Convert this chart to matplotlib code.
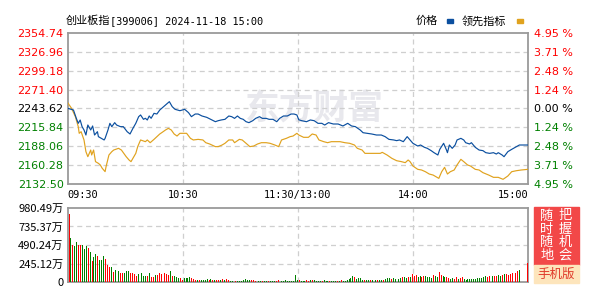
import numpy as np
import matplotlib
matplotlib.use("Agg")
import matplotlib.pyplot as plt
from matplotlib.patches import Rectangle

plt.rcParams['font.family'] = ['DejaVu Sans', 'Noto Sans CJK SC']
CJK = ['Noto Sans CJK SC', 'DejaVu Sans']
MONO = ['DejaVu Sans Mono', 'Noto Sans CJK SC']

# ------------------------
# Data (minutes after 09:30, 240 trading minutes)
# ------------------------
price_t = [0, 3, 4.5, 5.5, 6.5, 7.5, 8.5, 9.5, 10.5, 12,
           13, 14, 15.5, 16, 17.5, 19, 19.5, 21, 22, 23,
           24.5, 25.5, 27.5, 29, 31, 32.5, 34, 35.5, 37, 38,
           39.5, 40.5, 41.5, 42.5, 43.5, 45, 46.5, 48, 49, 51,
           53, 54.5, 56, 58.5, 61, 63, 64.5, 66.5, 68, 70,
           72.5, 74.5, 77, 78.5, 80, 82, 84, 85.5, 87, 88.5,
           90, 91.5, 93, 94.5, 96.5, 98, 100, 101.5, 103.5, 105,
           107, 109, 110.5, 112.5, 114.5, 116.5, 118, 119.5, 120.5, 122,
           124.5, 126.5, 128.5, 130.5, 132.5, 134, 136, 138.5, 141, 143.5,
           146, 148, 150, 152.5, 154, 156, 158.5, 161, 163.5, 165.5,
           167.5, 170, 171.5, 173, 175, 177, 178.5, 180, 182.5, 184,
           186, 187.5, 189.5, 191, 193, 194, 196, 197.5, 198, 199,
           200.5, 202, 203, 205, 206.5, 207.5, 209.5, 210.5, 212.5, 214.5,
           216.5, 218, 220, 222, 223.5, 224.5, 226.5, 227.5, 229.5, 231.5,
           234, 235.5, 237.5, 240]
price = [2243.9, 2241.4, 2229.1, 2221.8, 2226.7, 2216.9, 2212.0, 2204.6, 2219.3, 2212.0,
         2217.9, 2204.6, 2209.5, 2202.2, 2199.7, 2197.3, 2199.7, 2212.0, 2221.8, 2216.9,
         2222.8, 2219.3, 2216.9, 2216.9, 2209.5, 2206.1, 2214.4, 2221.8, 2231.6, 2234.1,
         2227.7, 2229.2, 2226.7, 2232.6, 2229.2, 2236.5, 2235.5, 2241.4, 2243.9, 2248.8,
         2253.7, 2246.3, 2242.4, 2240.4, 2242.4, 2237.5, 2231.6, 2235.5, 2235.5, 2232.6,
         2230.6, 2227.7, 2224.2, 2225.7, 2226.7, 2227.7, 2232.6, 2231.6, 2229.1, 2232.6,
         2229.1, 2227.7, 2224.2, 2222.8, 2225.7, 2229.1, 2231.6, 2229.1, 2229.1, 2227.7,
         2227.7, 2224.2, 2229.1, 2232.6, 2232.6, 2235.5, 2235.5, 2234.1, 2227.0, 2225.7,
         2224.2, 2226.7, 2225.7, 2221.8, 2221.8, 2219.3, 2222.8, 2220.8, 2220.8, 2217.9,
         2221.8, 2217.9, 2216.9, 2212.0, 2208.0, 2207.1, 2206.1, 2204.6, 2204.6, 2202.2,
         2198.2, 2197.3, 2196.3, 2197.3, 2194.8, 2202.2, 2197.3, 2192.4, 2188.4, 2189.9,
         2186.5, 2185.0, 2181.6, 2178.6, 2175.2, 2183.5, 2192.4, 2182.5, 2178.6, 2189.9,
         2185.0, 2189.9, 2197.3, 2199.7, 2197.3, 2193.3, 2191.4, 2193.3, 2186.5, 2182.5,
         2181.6, 2178.6, 2177.6, 2178.6, 2176.6, 2178.6, 2175.2, 2172.7, 2180.1, 2183.5,
         2187.5, 2189.9, 2189.9, 2189.9]

lead_t = [0, 2, 4, 5.5, 6, 7, 8.5, 9.5, 10.5, 12,
          12.5, 13.5, 14.5, 16, 17, 18, 19.5, 20, 21.5, 23,
          24, 25, 26.5, 28, 29, 30.5, 32, 33, 34, 35.5,
          36.5, 38, 39, 40.5, 41.5, 43, 45, 46.5, 48, 49,
          51, 52.5, 54, 55.5, 57, 58.5,
          62, 64, 65.5, 68, 70.5, 72, 74, 77, 78.5, 80.5,
          82, 84, 86, 87, 89.5, 91, 93, 95, 97, 99,
          101, 103.5, 105.5, 108, 110, 111.5, 114, 116, 117.5, 119.5,
          120.5, 123, 125.5, 127.5, 129.5, 131, 133.5, 135.5, 137.5, 139.5,
          142, 144.5, 147, 149.5, 151, 153.5, 155, 157, 160, 163,
          164, 166.5, 169, 171.5, 174, 176, 177.5,
          178.5, 180, 182.5, 184.5, 186.5, 188.5, 190.5, 193.5, 195, 196.5,
          198, 199.5, 201.5, 203, 205, 206.5, 208.5, 210, 212.5, 214.5,
          216.5, 219.5, 222, 224.5, 227, 229.5, 231.5, 234, 236.5, 240]
lead = [2252.2, 2243.9, 2231.6, 2216.9, 2207.1, 2209.5, 2197.3, 2180.1, 2172.7, 2182.5,
        2175.2, 2182.5, 2165.4, 2162.9, 2160.5, 2155.6, 2150.7, 2158.0, 2175.2, 2180.1,
        2182.5, 2183.5, 2185.0, 2182.5, 2178.6, 2172.7, 2167.8, 2165.4, 2170.3, 2177.6,
        2187.5, 2197.3, 2196.3, 2194.8, 2197.3, 2193.3, 2198.2, 2202.2, 2206.1, 2208.0,
        2212.0, 2214.4, 2212.0, 2206.1, 2203.1, 2207.1,
        2207.1, 2199.7, 2197.3, 2198.2, 2197.3, 2193.3, 2191.4, 2187.5, 2187.5, 2189.9,
        2192.4, 2197.3, 2197.3, 2193.3, 2198.2, 2197.3, 2192.4, 2187.5, 2188.4, 2191.4,
        2193.3, 2193.3, 2192.4, 2189.9, 2187.5, 2197.3, 2199.7, 2202.2, 2203.1, 2207.1,
        2204.6, 2201.2, 2201.2, 2206.1, 2204.6, 2197.3, 2194.8, 2193.3, 2194.8, 2194.8,
        2194.8, 2193.3, 2192.4, 2189.9, 2185.0, 2182.5, 2177.6, 2177.6, 2177.6, 2177.6,
        2179.1, 2175.2, 2170.3, 2166.8, 2165.4, 2163.9, 2167.8,
        2165.4, 2159.0, 2154.1, 2153.1, 2150.6, 2147.2, 2145.7, 2140.8, 2150.6, 2157.0,
        2147.2, 2150.6, 2153.1, 2160.5, 2168.8, 2165.4, 2160.5, 2159.0, 2154.1, 2153.1,
        2149.2, 2145.7, 2142.3, 2142.3, 2139.4, 2144.3, 2150.6, 2152.1, 2153.1, 2154.1]

# volume per minute (万), r = up minute, g = down minute
volume = [901, 583, 486, 473, 530, 490, 486, 490, 442, 477,
          450, 398, 278, 336, 371, 345, 292, 292, 345, 309,
          221, 203, 199, 133, 159, 159, 146, 119, 119, 119,
          146, 146, 119, 119, 106, 80, 110, 102, 119,
          80, 80, 80, 119, 66, 66, 93, 93, 119, 106,
          93, 119, 106, 93, 146, 80, 80, 66, 53, 53,
          27, 53, 53, 53, 66, 53, 40, 27, 27, 27,
          27, 27, 27, 40, 27, 40, 27, 27, 27, 27,
          26, 40, 26, 40, 26, 13, 13, 26, 13, 13,
          13, 13, 26, 40, 26, 26, 26, 26, 13, 13,
          13, 13, 13, 13, 13, 13, 13, 13, 13, 13,
          26, 13, 13, 13, 26, 13, 13, 13, 13, 93,
          26, 26, 13, 13, 13, 26, 13, 26, 26, 26,
          13, 13, 13, 13, 26, 13, 13, 13, 13, 13,
          13, 13, 13, 26, 13, 13, 26, 40, 53, 80,
          66, 40, 53, 53, 26, 26, 26, 26, 26, 26,
          26, 26, 31, 26, 26, 31,
          40, 49, 53, 44, 49, 40, 53, 44,
          53, 62, 66, 53, 66, 62,
          106, 84, 97, 62, 75, 66, 84, 75, 62, 66,
          53, 97, 75, 62, 128, 97, 75, 62, 62, 53,
          44, 53, 44, 62, 44, 53, 62, 40, 31, 40,
          40, 44, 44, 44, 53, 53, 53, 62, 75, 66,
          75, 84, 84, 84, 75, 97, 84, 97, 110, 106,
          97, 110, 119, 128, 119, 150, 163,
          0, 0, 0, 252]
vol_dir = ("rgrggrrggg" "rgrggrgggr" "rrgrgggrrg" "ggrrrrgrg"
           "ggrgrrgrrr" "grrrgrgggr" "rggggrrrgr" "ggggrgrgrr"
           "grgrrgggrg" "ggggggrrrr" "ggrggrgggr" "rggggggggg"
           "grgggrrgrg" "gggrgggrgg" "grgrgggggg" "rggggrggrg"
           "ggrggr" "gggrggrg" "grggrg"
           "rrrggrrggg" "grggrrggrr" "ggrrgrrggg" "gggggggggr" "rggrrggrgr" "rrrgrrg"
           "gggr")

price_ticks = [2132.50, 2160.28, 2188.06, 2215.84, 2243.62, 2271.40, 2299.18, 2326.96, 2354.74]
pct_labels = ["4.95 %", "3.71 %", "2.48 %", "1.24 %", "0.00 %", "1.24 %", "2.48 %", "3.71 %", "4.95 %"]
vol_ticks = [0, 245.12, 490.24, 735.37, 980.49]
vol_labels = ["0", "245.12万", "490.24万", "735.37万", "980.49万"]
time_ticks = [0, 60, 120, 180, 240]
time_labels = ["09:30", "10:30", "11:30/13:00", "14:00", "15:00"]

RED, GREEN, BLACK = "#ff0000", "#008000", "#000000"
BLUE_LINE, GOLD_LINE = "#0b4f9f", "#e0a21e"
GRID = "#cfcfcf"
SPINE = "#9a9a9a"

W, H = 597, 292
fig = plt.figure(figsize=(W / 100, H / 100), dpi=100)


def fx(px):
    return px / W


def fy(py):
    return 1 - py / H


def style_axes(ax):
    for s in ax.spines.values():
        s.set_color(SPINE)
        s.set_linewidth(1.3)
    ax.tick_params(length=0, labelsize=8)


# ------------------------
# Price panel
# ------------------------
ax = fig.add_axes([fx(67.7), fy(184), fx(528) - fx(67.7), fy(33) - fy(184)])
style_axes(ax)
ax.set_xlim(0, 240)
ax.set_ylim(price_ticks[0], price_ticks[-1])
for yv in price_ticks[1:-1]:
    ax.axhline(yv, color=GRID, lw=0.9, ls=(0, (4, 3)), zorder=1)
for xv in time_ticks[1:-1]:
    ax.axvline(xv, color=GRID, lw=0.9, ls=(0, (4, 3)), zorder=1)

ax.text(0.537, 0.50, "东方财富", transform=ax.transAxes, ha="center", va="center",
        fontsize=25, fontweight="bold", color="#e8e8ed", family=CJK, zorder=0)

ax.plot(lead_t, lead, color=GOLD_LINE, lw=0.85, zorder=3)
ax.plot(price_t, price, color=BLUE_LINE, lw=0.85, zorder=4)

ax.set_yticks(price_ticks)
ax.set_yticklabels([f"{v:.2f}" for v in price_ticks])
ax.tick_params(axis="y", pad=3)
for i, lab in enumerate(ax.get_yticklabels()):
    lab.set_color(GREEN if i < 4 else (BLACK if i == 4 else RED))

ax.set_xticks(time_ticks)
ax.set_xticklabels(time_labels, family=MONO, fontsize=7.4)
ax.tick_params(axis="x", pad=4)
xl = ax.get_xticklabels()
xl[0].set_horizontalalignment("left")
xl[-1].set_horizontalalignment("right")

ax2 = ax.twinx()
ax2.set_ylim(ax.get_ylim())
ax2.set_yticks(price_ticks)
ax2.set_yticklabels(pct_labels)
ax2.tick_params(length=0, labelsize=8, pad=4)
for s in ax2.spines.values():
    s.set_visible(False)
for i, lab in enumerate(ax2.get_yticklabels()):
    lab.set_color(GREEN if i < 4 else (BLACK if i == 4 else RED))

# ------------------------
# Volume panel
# ------------------------
axv = fig.add_axes([fx(67.7), fy(282), fx(528) - fx(67.7), fy(208) - fy(282)])
style_axes(axv)
axv.set_xlim(0, 240)
axv.set_ylim(0, vol_ticks[-1])
for yv in vol_ticks[1:-1]:
    axv.axhline(yv, color=GRID, lw=0.9, ls=(0, (4, 3)), zorder=1)
for xv in time_ticks[1:-1]:
    axv.axvline(xv, color=GRID, lw=0.9, ls=(0, (4, 3)), zorder=1)

bar_x = np.arange(len(volume)) + 0.7
bar_c = [RED if d == "r" else GREEN for d in vol_dir]
axv.bar(bar_x, volume, width=0.5, color=bar_c, linewidth=0, antialiased=False, zorder=3)
axv.set_xticks([])
axv.set_yticks(vol_ticks)
axv.set_yticklabels(vol_labels, family=CJK, fontsize=8)
axv.tick_params(axis="y", pad=3)

# ------------------------
# Header texts
# ------------------------
fig.text(fx(66), fy(21), "创业板指", ha="left", va="center", fontsize=8, family=CJK)
fig.text(fx(110), fy(21), "[399006] 2024-11-18 15:00", ha="left", va="center",
         fontsize=7.4, family=MONO)
fig.text(fx(416), fy(21), "价格", ha="left", va="center", fontsize=8, family=CJK)
fig.text(fx(462), fy(21), "领先指标", ha="left", va="center", fontsize=8, family=CJK)
fig.patches.append(Rectangle((fx(447), fy(22.5)), fx(6), 3 / H, transform=fig.transFigure,
                             color=BLUE_LINE, figure=fig))
fig.patches.append(Rectangle((fx(517), fy(22.5)), fx(6), 3 / H, transform=fig.transFigure,
                             color=GOLD_LINE, figure=fig))

# ------------------------
# Mobile badge
# ------------------------
fig.patches.append(Rectangle((fx(534), fy(265)), fx(45), 58 / H, transform=fig.transFigure,
                             color="#f24848", figure=fig))
fig.patches.append(Rectangle((fx(534), fy(283)), fx(45), 18 / H, transform=fig.transFigure,
                             color="#fde5bc", figure=fig))
for col_x, word in [(547, "随时随地"), (565.5, "把握机会")]:
    for k, ch in enumerate(word):
        fig.text(fx(col_x), fy(216 + k * 13), ch, ha="center", va="center",
                 fontsize=9.5, color="white", family=CJK)
fig.text(fx(556.5), fy(274), "手机版", ha="center", va="center", fontsize=9,
         color="#e03a2a", family=CJK)

fig.savefig("out.png", dpi=100)
